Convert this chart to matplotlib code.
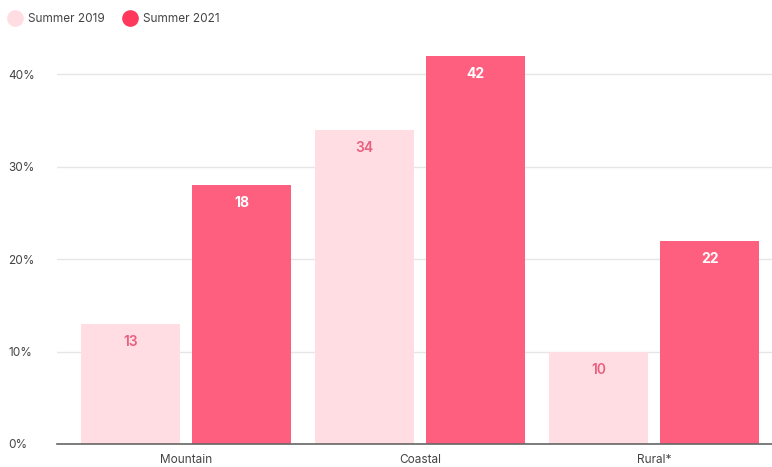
import matplotlib
matplotlib.use("Agg")
import matplotlib.pyplot as plt
import numpy as np
from matplotlib.lines import Line2D

categories = ["Mountain", "Coastal", "Rural*"]
series_names = ["Summer 2019", "Summer 2021"]
values_2019 = [13, 34, 10]
values_2021 = [28, 42, 22]
labels_2019 = ["13", "34", "10"]
labels_2021 = ["18", "42", "22"]
yticks = [0, 10, 20, 30, 40]
ytick_labels = ["0%", "10%", "20%", "30%", "40%"]

light = "#FFDDE3"
dark = "#FF5F7E"
legend_dark = "#FF385C"
label_pink = "#E8607F"

plt.rcParams['font.family'] = ['Inter', 'DejaVu Sans']

fig = plt.figure(figsize=(7.72, 4.67), dpi=100)
ax = fig.add_axes([57/772, 1 - 444/467, 715/772, (444 - 56)/467])

x = np.arange(len(categories))
w = 0.423
off = 0.237
b1 = ax.bar(x - off, values_2019, width=w, color=light, zorder=2)
b2 = ax.bar(x + off, values_2021, width=w, color=dark, zorder=2)

for rect, lab in zip(b1, labels_2019):
    ax.annotate(lab, (rect.get_x() + rect.get_width()/2, rect.get_height()),
                xytext=(0, -13), textcoords="offset points", ha="center", va="center",
                color=label_pink, fontsize=10, fontweight="semibold")
for rect, lab in zip(b2, labels_2021):
    ax.annotate(lab, (rect.get_x() + rect.get_width()/2, rect.get_height()),
                xytext=(0, -13), textcoords="offset points", ha="center", va="center",
                color="white", fontsize=10, fontweight="bold")

ax.set_xlim(-0.551, 2.504)
ax.set_ylim(0, 42)
ax.set_yticks(yticks)
ax.set_yticklabels(ytick_labels)
ax.set_xticks(x)
ax.set_xticklabels(categories)
ax.grid(axis="y", color="#E6E6E6", linewidth=1, zorder=0)
ax.set_axisbelow(True)
for s in ["top", "right", "left"]:
    ax.spines[s].set_visible(False)
ax.spines["bottom"].set_color("#666666")
ax.spines["bottom"].set_linewidth(1.2)
ax.spines["bottom"].set_zorder(3)
ax.tick_params(axis="both", length=0, labelsize=8.5, labelcolor="#444444")
ax.tick_params(axis="x", pad=7.5)
for t in ax.get_yticklabels():
    t.set_horizontalalignment("left")
ax.tick_params(axis="y", pad=35)

handles = [Line2D([0], [0], marker="o", linestyle="", markersize=11, markerfacecolor=light, markeredgecolor=light),
           Line2D([0], [0], marker="o", linestyle="", markersize=11, markerfacecolor=legend_dark, markeredgecolor=legend_dark)]
fig.legend(handles, series_names, loc="upper left", bbox_to_anchor=(-0.009, 0.995), ncol=2, frameon=False,
           fontsize=8.5, handletextpad=0.1, columnspacing=1.1, labelcolor="#444444")

fig.savefig("out.png", dpi=100, facecolor="white")
